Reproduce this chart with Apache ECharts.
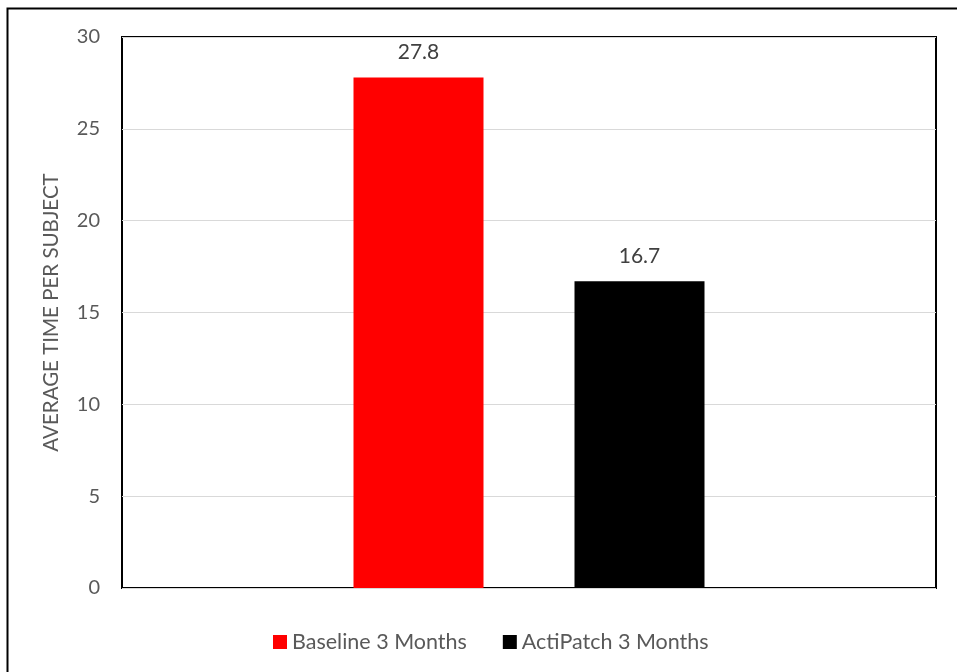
<!DOCTYPE html>
<html>
<head>
<meta charset="utf-8">
<script src="https://cdn.jsdelivr.net/npm/echarts@6/dist/echarts.min.js"></script>
<style>
  html, body { margin: 0; padding: 0; background: #fff; }
  #chart { width: 957px; height: 672px; }
</style>
</head>
<body>
<div id="chart"></div>
<script>
// Average time per subject, baseline vs. ActiPatch after 3 months
const categories = ['3 Months'];
const seriesNames = ['Baseline 3 Months', 'ActiPatch 3 Months'];
const baselineValues = [27.8];
const actipatchValues = [16.7];
const seriesColors = ['#ff0000', '#000000'];
const yAxisTitle = 'AVERAGE TIME PER SUBJECT';

const FONT = 'Lato, "Open Sans", sans-serif';
const textGray = '#595959';

const chart = echarts.init(document.getElementById('chart'), null, { renderer: 'canvas' });

const valueLists = [baselineValues, actipatchValues];

chart.setOption({
  animation: false,
  backgroundColor: '#ffffff',
  graphic: [{
    type: 'rect',
    left: 5, top: 6,
    shape: { width: 1000, height: 700 },
    style: { fill: 'none', stroke: '#000', lineWidth: 2 },
    silent: true
  }],
  grid: {
    left: 122, right: 21, top: 37, bottom: 84,
    show: true, borderColor: '#000', borderWidth: 2,
    backgroundColor: 'transparent'
  },
  legend: {
    top: 626,
    left: 268,
    itemWidth: 14, itemHeight: 14,
    itemGap: 36,
    icon: 'rect',
    textStyle: { color: textGray, fontSize: 21.5, fontFamily: FONT },
    data: seriesNames
  },
  xAxis: {
    type: 'category',
    data: categories,
    axisLine: { show: false },
    axisTick: { show: false },
    axisLabel: { show: false }
  },
  yAxis: {
    type: 'value',
    min: 0, max: 30, interval: 5,
    name: yAxisTitle,
    nameLocation: 'middle',
    nameGap: 60,
    nameTextStyle: { color: textGray, fontSize: 20.5, fontFamily: FONT },
    axisLine: { show: false },
    axisTick: { show: false },
    axisLabel: { color: textGray, fontSize: 20, fontFamily: FONT, margin: 22 },
    splitLine: { lineStyle: { color: '#d9d9d9', width: 1 } }
  },
  series: seriesNames.map((name, i) => ({
    name: name,
    type: 'bar',
    data: valueLists[i],
    barWidth: 130,
    barGap: '70%',
    itemStyle: { color: seriesColors[i] },
    label: {
      show: true,
      position: 'top',
      distance: 15,
      color: '#404040',
      fontSize: 21,
      fontFamily: FONT
    }
  }))
});
</script>
</body>
</html>
